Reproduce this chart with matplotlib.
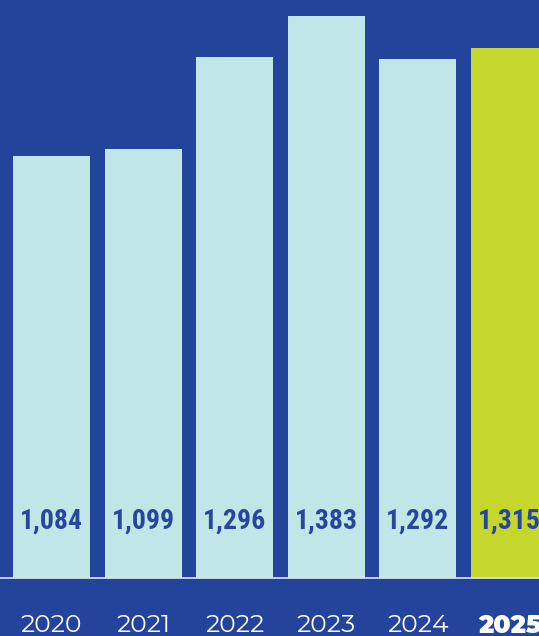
import matplotlib
matplotlib.use("Agg")
import matplotlib.pyplot as plt
from matplotlib.transforms import blended_transform_factory

years = ["2020", "2021", "2022", "2023", "2024", "2025"]
values = [1084, 1099, 1296, 1383, 1292, 1315]
value_labels = ["1,084", "1,099", "1,296", "1,383", "1,292", "1,315"]

bg = "#24449B"
bar_light = "#C0E6E8"
bar_hi = "#C5D72D"
label_col = "#27479D"

fig = plt.figure(figsize=(5.39, 6.36), dpi=100, facecolor=bg)
ax = fig.add_axes([0, 58 / 636, 1, 578 / 636])
ax.set_facecolor(bg)

x = list(range(len(years)))
colors = [bar_light] * (len(years) - 1) + [bar_hi]
ax.bar(x, values, width=0.84, color=colors, bottom=0, zorder=2)

ax.set_xlim(-0.562, 5.322)
ax.set_ylim(183, 1418)
ax.axis("off")

# baseline under the bars
ax.axhline(183, color="#DDE6F0", lw=1.2, clip_on=False, zorder=3)

trans = blended_transform_factory(ax.transData, fig.transFigure)
for i, lab in enumerate(value_labels):
    ax.text(i, (636 - 521) / 636, lab, transform=trans, ha="center", va="center",
            fontsize=20, fontweight=700, family=["Roboto Condensed", "DejaVu Sans"],
            color=label_col, zorder=4)

for i, yr in enumerate(years):
    last = i == len(years) - 1
    ax.text(i, (636 - 626) / 636, yr, transform=trans, ha="center", va="center",
            fontsize=18, fontweight=900 if last else 400,
            family=["Montserrat Alternates", "DejaVu Sans"], color="white", clip_on=False)

fig.savefig("out.png", dpi=100, facecolor=bg)
